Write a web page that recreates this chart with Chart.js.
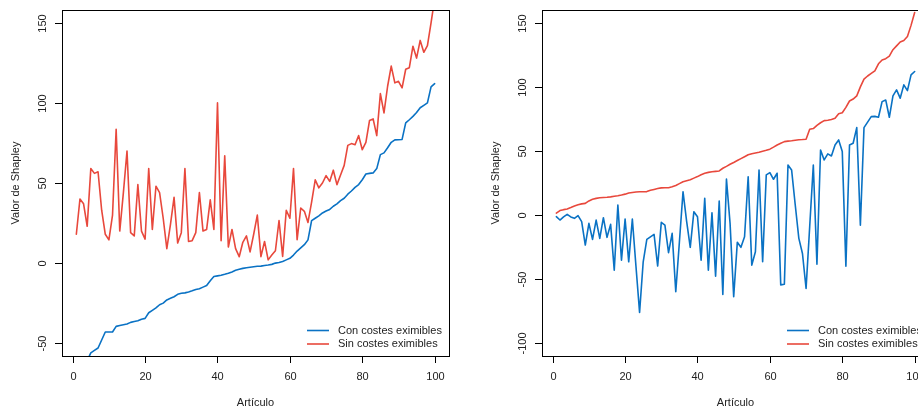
<!DOCTYPE html>
<html>
<head>
<meta charset="utf-8">
<script src="https://cdn.jsdelivr.net/npm/chart.js@4.4.1/dist/chart.umd.min.js"></script>
<style>
  html, body { margin: 0; padding: 0; background: #fff; }
  #wrap { position: relative; width: 918px; height: 412px; overflow: hidden; }
  .panel { position: absolute; top: 0; width: 480px; height: 412px; }
</style>
</head>
<body>
<div id="wrap">
  <div class="panel" style="left:0"><canvas id="left" width="480" height="412"></canvas></div>
  <div class="panel" style="left:480px"><canvas id="right" width="480" height="412"></canvas></div>
</div>
<script>
// Article index 1..100 on the x axis
const articulos = Array.from({ length: 100 }, (_, k) => k + 1);

const seriesNames = ['Con costes eximibles', 'Sin costes eximibles'];
const xTicks = [0, 20, 40, 60, 80, 100];
const leftYTicks = [-50, 0, 50, 100, 150];
const rightYTicks = [-100, -50, 0, 50, 100, 150];

// Left panel: Con costes (sorted) / Sin costes
const leftCon = [
  -85, -75, -68, -61, -56, -54.5, -53, -48, -43, -43,
  -43, -39.5, -39, -38.5, -38, -37, -36.5, -36, -35, -34.5,
  -31, -29.5, -28, -26, -25, -23, -22, -21, -19.5, -18.8,
  -18.6, -18, -17.3, -16.5, -16, -15, -14, -11, -8.4, -8,
  -7.6, -7, -6.3, -5.5, -4.5, -3.8, -3.3, -2.9, -2.6, -2.3,
  -2, -1.9, -1.5, -1.2, -0.8, 0, 0.4, 1, 2, 3,
  5, 7.5, 9.5, 11.5, 14.5, 26.5, 28, 29.5, 31.3, 32.5,
  33.5, 35.5, 37, 39, 40.5, 43, 45, 47.3, 49, 52,
  55.6, 56, 56.3, 59, 67.7, 68.8, 72, 75.4, 76.9, 77,
  77.2, 87.5, 89.5, 91.6, 94, 97, 98.5, 100, 110, 112
];
const leftSin = [
  18, 40, 37, 23, 59, 56, 57, 33, 18, 14.5,
  30, 83.5, 20, 44, 70, 19, 17, 49, 20, 15,
  59, 21, 48, 44, 28, 9, 24, 41, 12.5, 19,
  59, 13.5, 14, 19, 44, 20, 21, 39.5, 21, 100,
  14, 67, 10, 21, 9, 4, 13, 17, 7, 18,
  30, 4, 13.5, 2, 5, 7.7, 26.6, 4.2, 33, 28,
  59, 14.6, 34.4, 32.3, 25.4, 38, 52, 47, 50, 54.6,
  51, 58, 49, 55, 61, 73.5, 74.6, 73.9, 79.6, 70.8,
  75.4, 89, 90, 79.6, 105.8, 93.8, 110.4, 123, 112.5, 113.5,
  109.4, 121, 122, 135.4, 128, 139, 131.6, 135.8, 150, 165
];

// Right panel: Con costes / Sin costes (sorted)
const rightCon = [
  -1.3, -3.9, -1.5, 0.5, -1.5, -2.6, -0.5, -5.2, -23.4, -6.5,
  -19, -3.9, -18.2, -2.1, -17.4, -7.3, -43, 7.8, -35.2, -3.1,
  -36.5, -3.1, -40, -76, -36.5, -19, -17, -15.1, -39.8, -5.7,
  -7.8, -29.4, -14.3, -59.9, -21, 18.2, -5, -25.2, 2.6, -1.3,
  -35.2, 13, -43, 1.8, -47.7, 10.9, -62, 28, -6.5, -63.8,
  -21.3, -25.2, -16.9, 29.9, -39.1, -28.6, 35.2, -36.5, 31.3, 33.1,
  27.9, 32.6, -54.5, -54, 39.1, 35.2, 8, -18.2, -30, -57.3,
  -9, 39.1, -38.3, 50.8, 43, 47.7, 46.1, 54.7, 58.6, 49.5,
  -40, 54.7, 56, 68.2, -8, 68.2, 72.5, 76.8, 77, 76.3,
  88.5, 89.8, 76.3, 93, 97.7, 91.2, 101.6, 97.1, 109.4, 112
];
const rightSin = [
  1.5, 3.5, 4.2, 4.7, 5.8, 7, 8, 8.7, 9.1, 11,
  12.3, 13, 13.5, 13.7, 13.9, 14.2, 14.6, 15, 15.6, 16.3,
  17.2, 17.6, 18, 18.2, 18.2, 18.3, 19.3, 20, 20.7, 21.2,
  21.3, 21.3, 22, 23, 24.5, 26, 26.8, 27.6, 28.8, 30,
  31.5, 32.6, 33.3, 33.8, 34.1, 34.4, 36.5, 38, 39.6, 41,
  42.5, 44, 45.5, 47, 47.8, 48.4, 49, 49.8, 50.5, 51.4,
  53, 54.7, 56, 57.3, 57.7, 58, 58.4, 58.7, 58.9, 59.2,
  67, 67.5, 70, 72, 73.7, 74, 74.5, 75.5, 79, 79.8,
  84, 89, 90.5, 93, 100, 106, 108.5, 110.5, 112.5, 118,
  121, 122, 124, 129, 132, 135, 136.2, 139.3, 148, 158
];

const BLUE = '#0a72c4';
const RED = '#e8483c';
const FONT = '11px "Liberation Sans", Arial, Helvetica, sans-serif';
const TXT = '#222';

// base-graphics look: box, ticks, rotated y labels, legend
const rAxes = {
    id: 'rAxes',
    afterDraw(chart, args, opts) {
        const ctx = chart.ctx;
        const a = chart.chartArea;
        const xs = chart.scales.x, ys = chart.scales.y;
        ctx.save();
        ctx.strokeStyle = '#000';
        ctx.lineWidth = 1;
        ctx.strokeRect(a.left + 0.5, a.top + 0.5, a.right - a.left, a.bottom - a.top);

        ctx.font = FONT;
        ctx.fillStyle = TXT;

        // x axis
        ctx.textAlign = 'center';
        ctx.textBaseline = 'middle';
        xTicks.forEach(v => {
            const px = Math.round(xs.getPixelForValue(v)) + 0.5;
            ctx.beginPath();
            ctx.moveTo(px, a.bottom);
            ctx.lineTo(px, a.bottom + 7);
            ctx.stroke();
            ctx.fillText(String(v), px, a.bottom + 21);
        });
        ctx.fillText('Artículo', (a.left + a.right) / 2, a.bottom + 47);

        // y axis (labels parallel to axis)
        opts.yTicks.forEach(v => {
            const py = Math.round(ys.getPixelForValue(v)) + 0.5;
            ctx.beginPath();
            ctx.moveTo(a.left, py);
            ctx.lineTo(a.left - 7, py);
            ctx.stroke();
            ctx.save();
            ctx.translate(a.left - 19, py);
            ctx.rotate(-Math.PI / 2);
            ctx.fillText(String(v), 0, 0);
            ctx.restore();
        });
        ctx.save();
        ctx.translate(a.left - 46, (a.top + a.bottom) / 2);
        ctx.rotate(-Math.PI / 2);
        ctx.fillText('Valor de Shapley', 0, 0);
        ctx.restore();

        // legend, bottom right inside the box
        ctx.textAlign = 'left';
        chart.data.datasets.forEach((ds, k) => {
            const ly = a.bottom - 25.5 + k * 13.5;
            ctx.strokeStyle = ds.borderColor;
            ctx.lineWidth = 1.6;
            ctx.beginPath();
            ctx.moveTo(a.right - 142, ly);
            ctx.lineTo(a.right - 120, ly);
            ctx.stroke();
            ctx.fillText(ds.label, a.right - 111, ly);
        });
        ctx.restore();
    }
};

function makePanel(id, con, sin, yMin, yMax, yTicks) {
    const ctx = document.getElementById(id).getContext('2d');
    return new Chart(ctx, {
        type: 'line',
        data: {
            datasets: [
                {
                    label: seriesNames[0],
                    data: articulos.map((x, k) => ({ x, y: con[k] })),
                    borderColor: BLUE,
                    borderWidth: 1.6,
                    pointRadius: 0,
                    tension: 0,
                    borderJoinStyle: 'round',
                    borderCapStyle: 'round',
                    order: 2
                },
                {
                    label: seriesNames[1],
                    data: articulos.map((x, k) => ({ x, y: sin[k] })),
                    borderColor: RED,
                    borderWidth: 1.6,
                    pointRadius: 0,
                    tension: 0,
                    borderJoinStyle: 'round',
                    borderCapStyle: 'round',
                    order: 1
                }
            ]
        },
        options: {
            responsive: false,
            animation: false,
            devicePixelRatio: 1,
            layout: { padding: { left: 62, top: 10, right: 31, bottom: 56 } },
            plugins: {
                legend: { display: false },
                tooltip: { enabled: false },
                rAxes: { yTicks }
            },
            scales: {
                x: { type: 'linear', display: false, min: -2.96, max: 103.96 },
                y: { type: 'linear', display: false, min: yMin, max: yMax }
            }
        },
        plugins: [rAxes]
    });
}

makePanel('left', leftCon, leftSin, -58, 158, leftYTicks);
makePanel('right', rightCon, rightSin, -110, 160, rightYTicks);
</script>
</body>
</html>
